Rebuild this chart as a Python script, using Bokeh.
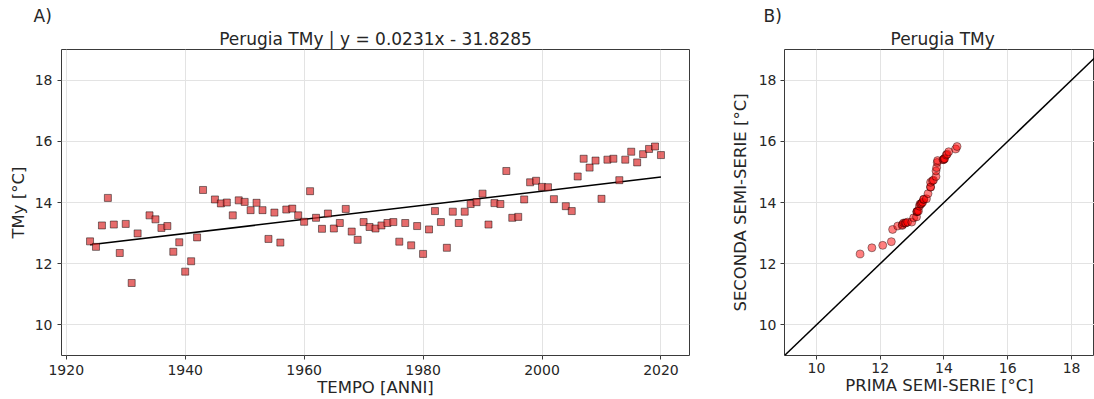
import numpy as np
from bokeh.plotting import figure
from bokeh.layouts import row
from bokeh.models import Range1d, FixedTicker, Title, Slope
from bokeh.embed import file_html
from bokeh.resources import INLINE

# ---------------- data ----------------
years = [1924, 1925, 1926, 1927, 1928, 1929, 1930, 1931, 1932, 1934, 1935, 1936,
         1937, 1938, 1939, 1940, 1941, 1942, 1943, 1945, 1946, 1947, 1948, 1949,
         1950, 1951, 1952, 1953, 1954, 1955, 1956, 1957, 1958, 1959, 1960, 1961,
         1962, 1963, 1964, 1965, 1966, 1967, 1968, 1969, 1970, 1971, 1972,
         1973, 1974, 1975, 1976, 1977, 1978, 1979, 1980, 1981, 1982, 1983, 1984,
         1985, 1986, 1987, 1988, 1989, 1990, 1991, 1992, 1993, 1994, 1995, 1996,
         1997, 1998, 1999, 2000, 2001, 2002, 2004, 2005, 2006, 2007, 2008, 2009,
         2010, 2011, 2012, 2013, 2014, 2015, 2016, 2017, 2018, 2019, 2020]
tmy = [12.73, 12.55, 13.25, 14.15, 13.28, 12.35, 13.30, 11.37, 12.99, 13.58, 13.45, 13.17,
       13.23, 12.39, 12.70, 11.74, 12.08, 12.86, 14.41, 14.10, 13.97, 14.00, 13.58, 14.07,
       14.02, 13.75, 13.99, 13.75, 12.81, 13.67, 12.69, 13.77, 13.80, 13.58, 13.37, 14.37,
       13.50, 13.14, 13.64, 13.15, 13.33, 13.79, 13.05, 12.78, 13.36, 13.20, 13.15,
       13.25, 13.33, 13.36, 12.72, 13.33, 12.60, 13.23, 12.32, 13.12, 13.72, 13.36, 12.52,
       13.70, 13.33, 13.70, 13.95, 14.01, 14.29, 13.28, 13.98, 13.95, 15.03, 13.50, 13.53,
       14.10, 14.66, 14.71, 14.51, 14.50, 14.11, 13.88, 13.72, 14.85, 15.43, 15.14, 15.37,
       14.12, 15.40, 15.43, 14.73, 15.40, 15.66, 15.31, 15.58, 15.75, 15.83, 15.55]
slope = 0.0231
intercept = -31.8285
title_a = "Perugia TMy | y = 0.0231x - 31.8285"
title_b = "Perugia TMy"
x_ticks_a = [1920, 1940, 1960, 1980, 2000, 2020]
t_ticks = [10, 12, 14, 16, 18]

# Q-Q: sorted first half vs sorted second half
half = len(tmy) // 2
prima = sorted(tmy[:half])
seconda = sorted(tmy[half:])

FONT = "DejaVu Sans"
TXT = "#262626"


def style(p):
    p.outline_line_color = "#3a3a3a"
    p.outline_line_width = 1
    p.grid.grid_line_color = "#e3e3e3"
    p.grid.grid_line_width = 1
    for ax in (p.xaxis[0], p.yaxis[0]):
        ax.axis_line_color = None
        ax.major_tick_line_color = "#3a3a3a"
        ax.major_tick_in = 0
        ax.major_tick_out = 4
        ax.minor_tick_line_color = None
        ax.major_label_text_font = FONT
        ax.major_label_text_font_size = "14px"
        ax.major_label_text_color = TXT
        ax.axis_label_text_font = FONT
        ax.axis_label_text_font_size = "16.5px"
        ax.axis_label_text_font_style = "normal"
        ax.axis_label_text_color = TXT
    p.xaxis[0].axis_label_standoff = 0


def add_titles(p, main_text, main_align, main_offset, tag_text, tag_offset):
    p.add_layout(Title(text=main_text, align=main_align, offset=main_offset, text_font=FONT,
                       text_font_size="17px", text_font_style="normal", text_color=TXT,
                       standoff=2), "above")
    p.add_layout(Title(text=tag_text, align="left", offset=tag_offset, text_font=FONT,
                       text_font_size="17px", text_font_style="normal", text_color=TXT,
                       standoff=0, text_line_height=0.5, vertical_align="bottom"), "above")


# ---------------- panel A ----------------
pA = figure(width=700, height=399, x_range=Range1d(1919.2, 2024.8), y_range=Range1d(9, 19),
            output_backend="svg", toolbar_location=None,
            min_border_left=61, min_border_right=11, min_border_top=49, min_border_bottom=20)
style(pA)
pA.xaxis.ticker = FixedTicker(ticks=x_ticks_a)
pA.yaxis.ticker = FixedTicker(ticks=t_ticks)
pA.xaxis.axis_label = "TEMPO [ANNI]"
pA.yaxis.axis_label = "TMy [°C]"
pA.xaxis[0].major_label_standoff = 5
pA.yaxis[0].major_label_standoff = 5
pA.yaxis[0].axis_label_standoff = 4
add_titles(pA, title_a, "center", 0, "A)", -28)

fit_x = [min(years), max(years)]
fit_y = [slope * x + intercept for x in fit_x]
pA.line(fit_x, fit_y, line_color="black", line_width=1.5)
pA.scatter(years, tmy, marker="square", size=7, fill_color="#dd3333", fill_alpha=0.72,
           line_color="black", line_alpha=0.6, line_width=0.8)

# ---------------- panel B ----------------
pB = figure(width=394, height=399, x_range=Range1d(9, 18.72), y_range=Range1d(9, 19),
            output_backend="svg", toolbar_location=None,
            min_border_left=84, min_border_right=0, min_border_top=48, min_border_bottom=20)
style(pB)
pB.xaxis.ticker = FixedTicker(ticks=t_ticks)
pB.yaxis.ticker = FixedTicker(ticks=t_ticks)
pB.xaxis.axis_label = "PRIMA SEMI-SERIE [°C]"
pB.yaxis.axis_label = "SECONDA SEMI-SERIE [°C]"
pB.xaxis[0].major_label_standoff = 3
pB.yaxis[0].major_label_standoff = 4
pB.yaxis[0].axis_label_standoff = 6
add_titles(pB, title_b, "left", 106, "B)", -21)
pB.add_layout(Slope(gradient=1, y_intercept=0, line_color="black", line_width=1.5))
pB.scatter(prima, seconda, marker="circle", size=8, fill_color="red", fill_alpha=0.5,
           line_color="black", line_alpha=0.5, line_width=0.8)

layout = row(pA, pB)
open("out.html", "w").write(file_html(layout, INLINE))
